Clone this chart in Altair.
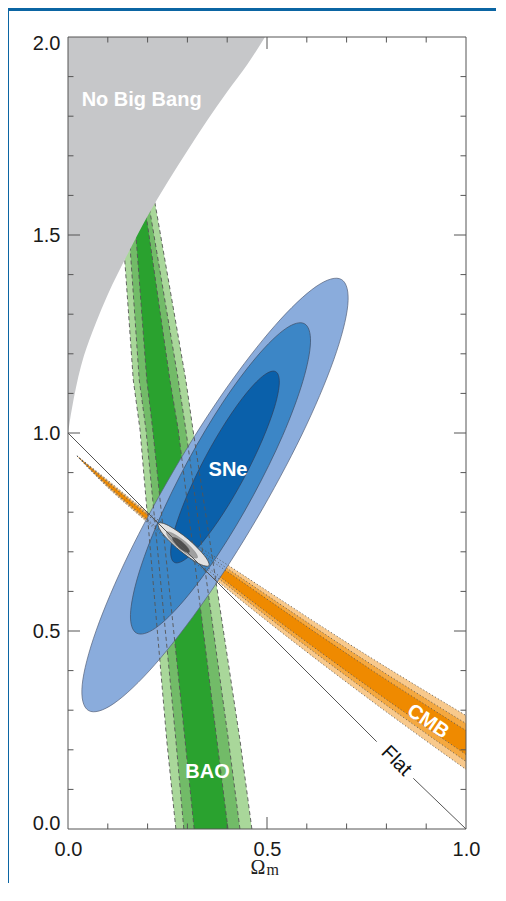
import altair as alt
import pandas as pd

# ---------------- axis values ----------------
x_tick_values = [0.0, 0.1, 0.2, 0.3, 0.4, 0.5, 0.6, 0.7, 0.8, 0.9, 1.0]
x_label_values = [0.0, 0.5, 1.0]
y_tick_values = [0.0, 0.1, 0.2, 0.3, 0.4, 0.5, 0.6, 0.7, 0.8, 0.9, 1.0,
                 1.1, 1.2, 1.3, 1.4, 1.5, 1.6, 1.7, 1.8, 1.9, 2.0]
y_label_values = [0.0, 0.5, 1.0, 1.5, 2.0]

# ---------------- No Big Bang boundary ----------------
nbb_y = [2.0, 1.93, 1.862, 1.79, 1.713, 1.633, 1.548, 1.452, 1.350, 1.278, 1.195, 1.090, 1.0]
nbb_x = [0.495, 0.45, 0.40, 0.35, 0.30, 0.25, 0.20, 0.15, 0.10, 0.07, 0.04, 0.015, 0.0]

# ---------------- BAO band edges (x at given Omega_Lambda) ----------------
bao_y = [1.601, 1.134, 1.008, 0.225, 0.0]
bao_light_left = [0.131, 0.164, 0.181, 0.248, 0.271]
bao_mid_left = [0.147, 0.179, 0.196, 0.271, 0.291]
bao_dark_left = [0.163, 0.198, 0.213, 0.294, 0.317]
bao_dark_right = [0.189, 0.256, 0.277, 0.374, 0.402]
bao_mid_right = [0.199, 0.277, 0.296, 0.403, 0.432]
bao_light_right = [0.215, 0.296, 0.314, 0.432, 0.462]

# ---------------- CMB band edges (Omega_Lambda at given Omega_m) ----------------
cmb_x = [0.0226, 0.0804, 0.1985, 0.4246, 0.7663, 1.0]
cmb_light_up = [0.942, 0.8965, 0.801, 0.6515, 0.4293, 0.2866]
cmb_light_lo = [0.942, 0.8813, 0.775, 0.5859, 0.3207, 0.1503]
cmb_mid_up = [0.942, 0.894, 0.797, 0.6414, 0.4129, 0.2664]
cmb_mid_lo = [0.942, 0.8838, 0.779, 0.5960, 0.3371, 0.1705]
cmb_dark_up = [0.942, 0.8919, 0.7934, 0.6331, 0.3990, 0.2487]
cmb_dark_lo = [0.942, 0.8859, 0.7823, 0.6043, 0.3510, 0.1881]

# ---------------- SNe contours (closed outlines) ----------------
sne_outer_x = [0.6872, 0.7030, 0.6676, 0.5872, 0.4734, 0.3440, 0.2183, 0.1156,
               0.0515, 0.0357, 0.0711, 0.1515, 0.2653, 0.3947, 0.5204, 0.6231]
sne_outer_y = [1.3876, 1.3227, 1.1848, 0.9949, 0.7821, 0.5783, 0.4152, 0.3172,
               0.2992, 0.3641, 0.5020, 0.6919, 0.9048, 1.1086, 1.2717, 1.3697]
sne_mid_x = [0.5941, 0.6093, 0.5899, 0.5394, 0.4648, 0.3779, 0.2917, 0.2196,
             0.1722, 0.1570, 0.1764, 0.2269, 0.3015, 0.3884, 0.4746, 0.5467]
sne_mid_y = [1.2760, 1.2293, 1.1301, 0.9937, 0.8408, 0.6944, 0.5777, 0.5073,
             0.4947, 0.5414, 0.6407, 0.7770, 0.9299, 1.0763, 1.1931, 1.2634]
sne_inner_x = [0.5219, 0.5309, 0.5191, 0.4882, 0.4432, 0.3907, 0.3389, 0.2955,
               0.2671, 0.2580, 0.2698, 0.3008, 0.3457, 0.3982, 0.4500, 0.4935]
sne_inner_y = [1.1549, 1.1265, 1.0659, 0.9823, 0.8881, 0.7980, 0.7255, 0.6816,
               0.6734, 0.7018, 0.7624, 0.8460, 0.9402, 1.0303, 1.1028, 1.1467]

# ---------------- combined constraint (small ellipses) ----------------
comb_outer_x = [0.354, 0.327, 0.279, 0.237, 0.227, 0.253, 0.302, 0.343]
comb_outer_y = [0.665, 0.671, 0.705, 0.747, 0.772, 0.766, 0.732, 0.690]
comb_mid_x = [0.325, 0.309, 0.279, 0.254, 0.248, 0.264, 0.294, 0.319]
comb_mid_y = [0.685, 0.688, 0.709, 0.734, 0.750, 0.746, 0.726, 0.700]
comb_inner_x = [0.305, 0.295, 0.279, 0.266, 0.263, 0.273, 0.289, 0.302]
comb_inner_y = [0.699, 0.700, 0.711, 0.726, 0.735, 0.734, 0.723, 0.709]

# ---------------- flat universe line (broken for its label) ----------------
flat_x = [0.0, 0.8676]
flat_y = [1.0, 0.128]
flat_x2 = [0.7756, 1.0]
flat_y2 = [0.2205, 0.0]

# ---------------- annotations ----------------
label_text = ["No Big Bang", "SNe", "BAO", "CMB"]
label_x = [0.185, 0.402, 0.3505, 0.9045]
label_y = [1.841, 0.907, 0.143, 0.2715]
label_angle = [0, 0, 0, 34]

# ---------------- styling ----------------
FONT = "Liberation Sans"
BLUE = "#0b65a3"
XS = alt.Scale(domain=[0, 1], nice=False, zero=False)
YS = alt.Scale(domain=[0, 2], nice=False, zero=False)
XA = alt.Axis(values=x_label_values, format=".1f", title=None, ticks=False, tickSize=0,
              domain=False, grid=False, labelFontSize=20, labelFont=FONT,
              labelColor="#1a1a1a", labelPadding=10, labelFlush=False, zindex=1)
YA = alt.Axis(values=y_label_values, format=".1f", title=None, ticks=False, tickSize=0,
              domain=False, grid=False, labelFontSize=20, labelFont=FONT,
              labelColor="#1a1a1a", labelPadding=8, labelFlush=True,
              labelFlushOffset=4, zindex=1)


def X(f):
    return alt.X(f, type="quantitative", scale=XS, axis=XA)


def Y(f):
    return alt.Y(f, type="quantitative", scale=YS, axis=YA)


# blue frame strips along the top and left page edges (decoration)
one = pd.DataFrame({"a": [0]})
strip_top = alt.Chart(one).mark_rect(color=BLUE).encode(
    x=alt.value(-60), x2=alt.value(430), y=alt.value(-29), y2=alt.value(-26))
strip_left = alt.Chart(one).mark_rect(color=BLUE).encode(
    x=alt.value(-60), x2=alt.value(-59), y=alt.value(-29), y2=alt.value(900))

# BAO
bao = pd.DataFrame({"y": bao_y, "ll": bao_light_left, "ml": bao_mid_left, "dl": bao_dark_left,
                    "dr": bao_dark_right, "mr": bao_mid_right, "lr": bao_light_right})


def bao_band(lo, hi, color):
    return alt.Chart(bao).mark_area(color=color, orient="horizontal", interpolate="linear").encode(
        y=Y("y"), x=X(lo), x2=alt.X2(hi))


bao_layers = [bao_band("ll", "lr", "#a9d79a"), bao_band("ml", "mr", "#72bb68"),
              bao_band("dl", "dr", "#2aa22f")]
bao_edges = alt.Chart(bao).transform_fold(
    ["ll", "ml", "dl", "dr", "mr", "lr"], as_=["edge", "xv"]
).mark_line(color="#555555", strokeWidth=0.9, strokeDash=[4, 3], interpolate="linear").encode(
    x=X("xv"), y=Y("y"), detail="edge:N", order="y:Q")

# CMB
cmb = pd.DataFrame({"x": cmb_x, "lu": cmb_light_up, "ll": cmb_light_lo, "mu": cmb_mid_up,
                    "ml": cmb_mid_lo, "du": cmb_dark_up, "dl": cmb_dark_lo})


def cmb_band(up, lo, color):
    return alt.Chart(cmb).mark_area(color=color, interpolate="monotone").encode(
        x=X("x"), y=Y(up), y2=alt.Y2(lo))


cmb_layers = [cmb_band("lu", "ll", "#f8c98c"), cmb_band("mu", "ml", "#f4a840"),
              cmb_band("du", "dl", "#ef8a00")]
cmb_edges = alt.Chart(cmb).transform_fold(
    ["lu", "ll", "mu", "ml", "du", "dl"], as_=["edge", "yv"]
).mark_line(color="#555555", strokeWidth=0.8, strokeDash=[1.2, 2.2], interpolate="monotone").encode(
    x=X("x"), y=Y("yv"), detail="edge:N", order="x:Q")


def blob(xs, ys, fill, stroke, sw):
    df = pd.DataFrame({"x": xs, "y": ys, "i": list(range(len(xs)))})
    return alt.Chart(df).mark_line(fill=fill, stroke=stroke, strokeWidth=sw,
                                   interpolate="cardinal-closed").encode(
        x=X("x"), y=Y("y"), order="i:Q")


sne_layers = [blob(sne_outer_x, sne_outer_y, "#8aacdc", "#56627a", 0.7),
              blob(sne_mid_x, sne_mid_y, "#3c86c6", "#3e4e66", 0.7),
              blob(sne_inner_x, sne_inner_y, "#0a60aa", "#2e3e5a", 0.7)]

nbb = pd.DataFrame({"y": nbb_y, "x": nbb_x, "x0": [0.0] * len(nbb_x)})
nbb_area = alt.Chart(nbb).mark_area(color="#c6c7c9", orient="horizontal",
                                    interpolate="monotone").encode(
    y=Y("y"), x=X("x"), x2=alt.X2("x0"))

comb_layers = [blob(comb_outer_x, comb_outer_y, "#e2e2e2", "#444444", 0.8),
               blob(comb_mid_x, comb_mid_y, "#a0a0a0", "#777777", 0.4),
               blob(comb_inner_x, comb_inner_y, "#4e4e4e", "#4e4e4e", 0.4)]

flat = pd.DataFrame({"x": flat_x, "y": flat_y, "x2": flat_x2, "y2": flat_y2})
flat_rule = alt.Chart(flat).mark_rule(color="#555555", strokeWidth=1).encode(
    x=X("x"), y=Y("y"), x2="x2", y2="y2")

# frame and inward ticks
frame = alt.Chart(pd.DataFrame({"x": [0.0], "x2": [1.0], "y": [0.0], "y2": [2.0]})).mark_rect(
    fill="white", fillOpacity=0, stroke="#555555", strokeWidth=1).encode(
    x=X("x"), x2="x2", y=Y("y"), y2="y2")

tick_rows = []
for v in x_tick_values[1:-1]:
    L = 0.0303 if v in x_label_values else 0.0139
    tick_rows.append({"x": v, "x2": v, "y": 0.0, "y2": L})
    tick_rows.append({"x": v, "x2": v, "y": 2.0, "y2": 2.0 - L})
for v in y_tick_values[1:-1]:
    L = 0.0302 if v in y_label_values else 0.0138
    tick_rows.append({"x": 0.0, "x2": L, "y": v, "y2": v})
    tick_rows.append({"x": 1.0, "x2": 1.0 - L, "y": v, "y2": v})
ticks = alt.Chart(pd.DataFrame(tick_rows)).mark_rule(color="#555555", strokeWidth=1).encode(
    x=X("x"), x2="x2", y=Y("y"), y2="y2")

labels = alt.Chart(pd.DataFrame({"x": label_x, "y": label_y, "t": label_text,
                                 "a": label_angle})).mark_text(
    color="white", font=FONT, fontWeight="bold", fontSize=20, align="center",
    baseline="middle").encode(x=X("x"), y=Y("y"), text="t:N", angle=alt.Angle("a:Q", scale=None))

flat_label = alt.Chart(pd.DataFrame({"x": [0.825], "y": [0.172], "t": ["Flat"]})).mark_text(
    color="#111111", font=FONT, fontSize=20, align="center", baseline="middle", angle=45).encode(
    x=X("x"), y=Y("y"), text="t:N")

xtitle_omega = alt.Chart(pd.DataFrame({"x": [0.4774], "y": [-0.1136], "t": ["Ω"]})).mark_text(
    color="#222222", font="Liberation Serif", fontSize=20, align="center",
    baseline="alphabetic").encode(x=X("x"), y=Y("y"), text="t:N")
xtitle_sub = alt.Chart(pd.DataFrame({"x": [0.4985], "y": [-0.116], "t": ["m"]})).mark_text(
    color="#222222", font="Liberation Serif", fontSize=16, align="left",
    baseline="alphabetic").encode(x=X("x"), y=Y("y"), text="t:N")

chart = alt.layer(
    strip_top, strip_left, *bao_layers, *cmb_layers, *sne_layers, bao_edges, cmb_edges,
    nbb_area, *comb_layers, flat_rule, frame, ticks, labels, flat_label, xtitle_omega,
    xtitle_sub
).properties(
    width=398, height=792,
    padding={"left": 60, "top": 29, "right": 30, "bottom": 54},
    autosize=alt.AutoSizeParams(type="none"),
    background="white",
).configure_view(stroke=None)

chart.save("out.html", embed_options={"renderer": "svg", "actions": False})
